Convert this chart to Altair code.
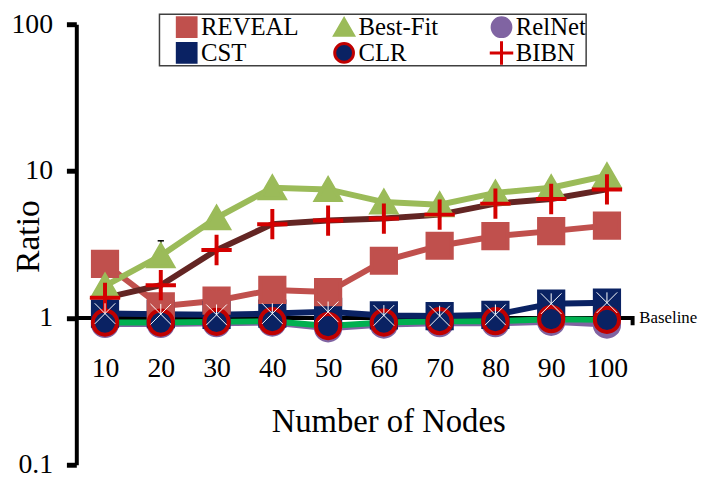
import altair as alt
import pandas as pd

# ---- data ----
nodes = [10, 20, 30, 40, 50, 60, 70, 80, 90, 100]
reveal = [2.33, 1.2, 1.31, 1.55, 1.5, 2.45, 3.1, 3.6, 3.9, 4.25]
bestfit = [1.65, 2.65, 4.8, 7.7, 7.5, 6.15, 5.9, 7.1, 7.7, 9.3]
relnet = [0.91, 0.91, 0.92, 0.93, 0.85, 0.9, 0.92, 0.92, 0.94, 0.9]
cst = [1.07, 1.06, 1.05, 1.07, 1.1, 1.04, 1.03, 1.05, 1.25, 1.27]
clr = [0.93, 0.93, 0.94, 0.95, 0.88, 0.93, 0.95, 0.95, 0.98, 0.97]
bibn = [1.37, 1.67, 2.9, 4.35, 4.6, 4.75, 5.05, 6.0, 6.45, 7.5]

series_names = ["REVEAL", "Best-Fit", "RelNet", "CST", "CLR", "BIBN"]
series_values = [reveal, bestfit, relnet, cst, clr, bibn]

# Best-Fit error bar at 20 nodes
err_x = [20]
err_low = [2.65]
err_high = [3.35]

# baseline reference line
baseline_x = [4.852, 104.6, 104.6]
baseline_y = [1, 1, 0.89]
baseline_label_x = [105.8]
baseline_label_y = [1]
baseline_label = ["Baseline"]

x_ticks = nodes
y_ticks = [0.1, 1, 10, 100]

# ---- styles ----
line_colors = ["#c0504d", "#9bbb59", "#8064a2", "#0a2263", "#00b050", "#632523"]
fill_colors = ["#c0504d", "#9bbb59", "#8064a2", "#0a2263", "#0a2263", "transparent"]
stroke_colors = ["#c0504d", "#9bbb59", "#8064a2", "#0a2263", "#c00000", "#d40000"]
shapes = ["square", "triangle-up", "circle", "square", "circle",
          "M-1.25,0H1.25M0,-1.25V1.25"]
line_draw_order = ["RelNet", "CLR", "CST", "REVEAL", "Best-Fit", "BIBN"]
point_draw_order = ["RelNet", "CST", "REVEAL", "Best-Fit", "CLR", "BIBN"]

FONT = "Liberation Serif"
PLOT_H = 445

rows = []
for name, vals in zip(series_names, series_values):
    for n, v in zip(nodes, vals):
        rows.append({"series": name, "nodes": n, "ratio": v,
                     "porder": point_draw_order.index(name)})
df = pd.DataFrame(rows)

x_scale = alt.Scale(domain=[4.852, 115.44], nice=False, zero=False)
y_scale = alt.Scale(type="log", domain=[0.1, 100], nice=False)

x_axis = alt.Axis(values=x_ticks, title="Number of Nodes", domain=False, ticks=False,
                  grid=False, labelFont=FONT, labelFontSize=28, labelColor="black",
                  labelPadding=37, offset=-148, titleFont=FONT, titleFontSize=33,
                  titleFontWeight="normal", titleColor="black", titleY=114,
                  titleX=315, titleBaseline="alphabetic")
y_axis = alt.Axis(values=y_ticks, format="~g", title="Ratio", grid=False,
                  domainColor="black", domainWidth=4, tickColor="black", tickWidth=5,
                  tickSize=10, labelFont=FONT, labelFontSize=28, labelColor="black",
                  labelPadding=14, titleFont=FONT, titleFontSize=34,
                  titleFontWeight="normal", titleColor="black", titleX=-38,
                  titleY=214, titleAngle=270, titleBaseline="alphabetic",
                  titleAlign="center")

X = alt.X("nodes:Q", scale=x_scale, axis=x_axis)
Y = alt.Y("ratio:Q", scale=y_scale, axis=y_axis)

base_df = pd.DataFrame({"nodes": baseline_x, "ratio": baseline_y})
baseline = alt.Chart(base_df).mark_line(color="black", strokeWidth=4).encode(
    x=X, y=Y, order=alt.Order("nodes:Q"))

lbl_df = pd.DataFrame({"nodes": baseline_label_x, "ratio": baseline_label_y,
                       "t": baseline_label})
baseline_text = alt.Chart(lbl_df).mark_text(
    align="left", baseline="middle", font=FONT, fontSize=17, color="black"
).encode(x=X, y=Y, text="t:N")

line_layers = []
for name in line_draw_order:
    i = series_names.index(name)
    line_layers.append(
        alt.Chart(df).transform_filter(alt.datum.series == name)
        .mark_line(color=line_colors[i], strokeWidth=6)
        .encode(x=X, y=Y)
    )

err_df = pd.DataFrame({"nodes": err_x, "ratio": err_low, "high": err_high})
err_rule = alt.Chart(err_df).mark_rule(color="black", strokeWidth=1.5).encode(
    x=X, y=Y, y2="high:Q")
err_cap = alt.Chart(err_df).mark_point(shape="stroke", color="black", size=40,
                                       strokeWidth=1.5, opacity=1).encode(
    x=X, y=alt.Y("high:Q", scale=y_scale, axis=y_axis))

legend = alt.Legend(orient="none", legendX=84, legendY=-10, columns=3, direction="horizontal",
                    gridAlign="all", columnPadding=18, rowPadding=0, padding=0,
                    clipHeight=26, symbolOffset=15, strokeColor="#404040",
                    fillColor="white", labelFont=FONT, labelFontSize=25,
                    labelColor="black", labelOffset=2, symbolSize=360,
                    symbolStrokeWidth=3, title=None)

points = alt.Chart(df).mark_point(filled=True, size=600, strokeWidth=4, opacity=1).encode(
    x=X, y=Y,
    shape=alt.Shape("series:N", scale=alt.Scale(domain=series_names, range=shapes),
                    legend=legend),
    fill=alt.Fill("series:N", scale=alt.Scale(domain=series_names, range=fill_colors),
                  legend=legend),
    stroke=alt.Stroke("series:N", scale=alt.Scale(domain=series_names, range=stroke_colors),
                      legend=legend),
    order=alt.Order("porder:Q"),
)

cst_cross = alt.Chart(df).transform_filter(alt.datum.series == "CST").mark_point(
    shape="M-0.85,-0.85L0.85,0.85M0.85,-0.85L-0.85,0.85M0,-0.85V0",
    filled=False, stroke="white", strokeWidth=1, size=600, opacity=1
).encode(x=X, y=Y)

chart = alt.layer(
    baseline, *line_layers, err_rule, err_cap, points, cst_cross, baseline_text
).properties(
    width=623, height=PLOT_H,
    autosize=alt.AutoSizeParams(type="none"),
    padding={"left": 69, "top": 14, "right": 6, "bottom": 11},
).configure_view(stroke="transparent").configure_legend(strokeWidth=1.5)

chart.save("out.html", embed_options={"renderer": "svg", "actions": False})
